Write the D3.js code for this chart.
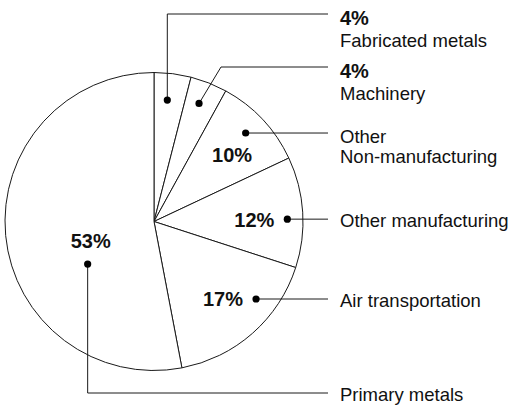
<!DOCTYPE html>
<html lang="en">
<head>
<meta charset="utf-8">
<title>Shares by industry</title>
<script src="https://d3js.org/d3.v7.min.js"></script>
<style>
  body { margin: 0; background: #fff; font-family: Helvetica, Arial, "Liberation Sans", sans-serif; }
  .pct { font-weight: bold; font-size: 20px; fill: #111; }
  .name { font-size: 18.5px; fill: #111; }
</style>
</head>
<body>
<div id="chart"></div>
<script>

// data, clockwise from 12 o'clock
var categories = ["Fabricated metals", "Machinery", "Other Non-manufacturing",
                  "Other manufacturing", "Air transportation", "Primary metals"];
var shares = [4, 4, 10, 12, 17, 53];
var nameLines = [["Fabricated metals"], ["Machinery"], ["Other", "Non-manufacturing"],
                 ["Other manufacturing"], ["Air transportation"], ["Primary metals"]];

var width = 509, height = 407;
var cx = 154, cy = 221.5, radius = 149;
var lineEnd = 328, textX = 340;

// where each dot sits inside its slice: fraction of slice angle, fraction of radius
var dotPlace = [
  {f: 0.434, r: 0.82}, {f: 0.45, r: 0.848}, {f: 0.478, r: 0.855},
  {f: 0.56, r: 0.895}, {f: 0.314, r: 0.86}, {f: 0.357, r: 0.529}
];

var svg = d3.select("#chart")
  .append("svg")
    .attr("width", width)
    .attr("height", height);

var g = svg.append("g")
  .attr("transform", "translate(" + cx + "," + cy + ")");

var pie = d3.pie().sort(null).value(function(d) { return d; });
var arcs = pie(shares);

var arc = d3.arc().innerRadius(0).outerRadius(radius);

g.selectAll("path.slice")
  .data(arcs)
  .enter()
  .append("path")
    .attr("class", "slice")
    .attr("d", arc)
    .style("fill", "#fff")
    .style("stroke", "#1a1a1a")
    .style("stroke-width", 1);

// dot positions
var dots = arcs.map(function(a, i) {
  var ang = a.startAngle + dotPlace[i].f * (a.endAngle - a.startAngle);
  var r = dotPlace[i].r * radius;
  return {x: cx + r * Math.sin(ang), y: cy - r * Math.cos(ang)};
});

// leader lines
var leaders = dots.map(function(d, i) {
  if (i === 0) return [[d.x, d.y], [d.x, 14], [lineEnd, 14]];
  if (i === 1) return [[d.x, d.y], [221, 67], [lineEnd, 67]];
  if (i === 5) return [[d.x, d.y], [d.x, 393], [lineEnd, 393]];
  return [[d.x, d.y], [lineEnd, d.y]];
});

svg.selectAll("path.leader")
  .data(leaders)
  .enter()
  .append("path")
    .attr("class", "leader")
    .attr("d", d3.line())
    .style("fill", "none")
    .style("stroke", "#1a1a1a")
    .style("stroke-width", 1);

svg.selectAll("circle.dot")
  .data(dots)
  .enter()
  .append("circle")
    .attr("class", "dot")
    .attr("cx", function(d) { return d.x; })
    .attr("cy", function(d) { return d.y; })
    .attr("r", 3.6)
    .style("fill", "#000");

// callout texts on the right
leaders.forEach(function(l, i) {
  var ly = l[l.length - 1][1];
  var y0;
  if (i < 2) {
    svg.append("text").attr("class", "pct")
      .attr("x", textX).attr("y", ly + 11).text(shares[i] + "%");
    y0 = ly + 32.5;
  } else if (nameLines[i].length > 1) {
    y0 = ly + 10;
  } else {
    y0 = ly + 7.5;
  }
  nameLines[i].forEach(function(t, k) {
    svg.append("text").attr("class", "name")
      .attr("x", textX).attr("y", y0 + k * 20).text(t);
  });
});

// percentages inside the pie
var inside = [
  {i: 2, dx: 6.5, dy: 28.5, anchor: "end"},
  {i: 3, dx: -13, dy: 7.5, anchor: "end"},
  {i: 4, dx: -13, dy: 7, anchor: "end"},
  {i: 5, dx: 3, dy: -16, anchor: "middle"}
];
inside.forEach(function(p) {
  svg.append("text").attr("class", "pct")
    .attr("x", dots[p.i].x + p.dx)
    .attr("y", dots[p.i].y + p.dy)
    .attr("text-anchor", p.anchor)
    .text(shares[p.i] + "%");
});

</script>
</body>
</html>
